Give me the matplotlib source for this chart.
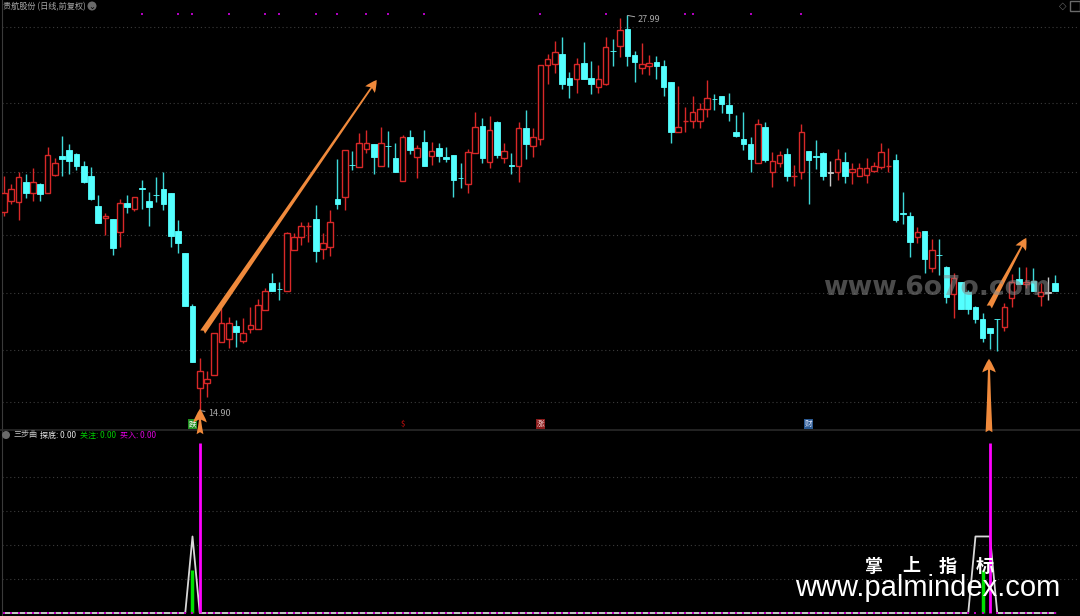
import numpy as np
import matplotlib
matplotlib.use("Agg")
import matplotlib.pyplot as plt
from matplotlib.patches import Ellipse
from matplotlib.transforms import blended_transform_factory

CJK = ['Noto Sans CJK SC', 'DejaVu Sans']
plt.rcParams['font.family'] = CJK

# ---------------- data ----------------
title_main = "贵航股份 (日线,前复权)"
opens = [21.48, 21.84, 21.81, 22.47, 22.11, 22.40, 22.11, 22.70, 23.33, 23.53,
         23.40, 23.00, 22.67, 21.68, 21.28, 21.25, 20.81, 21.78, 21.58, 22.27,
         21.84, 22.05, 22.24, 22.11, 20.85, 20.12, 18.36, 15.65, 15.81, 16.08,
         17.17, 17.27, 17.70, 17.21, 17.60, 17.60, 18.23, 19.13, 18.93, 18.86,
         20.22, 20.65, 21.00, 21.25, 20.25, 20.32, 21.91, 21.97, 23.04, 22.97,
         23.56, 23.73, 23.00, 23.67, 23.27, 22.50, 23.96, 23.30, 23.80, 23.33,
         23.60, 23.30, 23.36, 22.61, 22.40, 23.43, 24.32, 23.13, 24.46, 23.27,
         23.01, 23.00, 24.26, 23.66, 23.90, 26.35, 26.38, 26.71, 25.91, 25.88,
         26.41, 25.91, 25.62, 25.71, 26.81, 26.97, 27.53, 26.68, 26.25, 26.31,
         26.44, 26.31, 25.78, 24.13, 24.48, 24.49, 24.49, 24.89, 25.22, 25.32,
         25.02, 24.13, 23.90, 23.73, 23.10, 24.29, 22.80, 23.10, 23.40, 22.66,
         22.80, 23.50, 23.33, 23.43, 22.77, 22.80, 23.13, 22.80, 22.67, 22.70,
         22.84, 22.97, 22.99, 23.20, 21.44, 21.35, 20.65, 20.85, 19.62, 20.06,
         19.65, 18.76, 19.16, 18.83, 18.33, 17.93, 17.64, 17.94, 17.67, 18.63,
         19.26, 19.09, 19.19, 18.70, 18.80, 19.13]
highs = [22.67, 22.40, 22.80, 22.74, 22.93, 22.44, 23.63, 23.27, 23.99, 23.73,
         23.43, 23.17, 22.97, 22.04, 21.44, 21.26, 21.91, 22.04, 21.98, 22.54,
         22.14, 22.64, 22.80, 22.12, 21.21, 20.13, 18.43, 16.64, 16.21, 17.48,
         18.30, 18.00, 17.90, 17.97, 18.33, 18.60, 18.96, 19.46, 19.16, 20.81,
         20.78, 21.15, 21.15, 21.71, 20.78, 21.54, 23.23, 23.54, 23.50, 24.09,
         24.19, 23.74, 24.29, 24.16, 23.76, 24.03, 24.19, 23.70, 24.19, 23.80,
         23.76, 23.63, 23.37, 23.10, 23.56, 24.79, 24.59, 24.66, 24.49, 23.76,
         23.43, 24.46, 24.85, 24.26, 26.36, 26.71, 27.14, 27.27, 26.11, 26.58,
         27.11, 26.48, 26.35, 27.27, 27.21, 27.90, 27.99, 26.81, 27.07, 26.68,
         26.64, 26.51, 25.79, 25.65, 24.95, 25.32, 25.09, 25.85, 25.38, 25.33,
         25.42, 24.69, 24.79, 23.96, 24.56, 24.46, 23.46, 23.50, 23.60, 23.03,
         24.39, 23.51, 23.86, 23.46, 23.17, 23.56, 23.46, 23.10, 23.10, 23.27,
         23.13, 23.76, 23.60, 23.40, 22.14, 21.48, 20.98, 20.86, 20.58, 20.58,
         19.69, 19.46, 19.17, 18.89, 18.36, 18.13, 17.65, 17.94, 18.46, 19.42,
         19.65, 19.65, 19.62, 19.13, 19.32, 19.39]
lows = [21.35, 21.74, 21.21, 21.94, 21.84, 21.84, 22.10, 22.67, 22.67, 22.74,
        22.87, 22.44, 21.87, 21.10, 20.72, 20.05, 20.32, 21.44, 21.51, 21.58,
        21.01, 21.81, 21.54, 20.32, 20.12, 18.35, 16.50, 14.90, 15.35, 16.07,
        17.16, 16.97, 17.01, 17.14, 17.47, 17.59, 18.22, 18.85, 18.56, 18.85,
        20.21, 20.38, 20.48, 19.82, 19.92, 20.02, 21.58, 21.54, 22.87, 22.96,
        23.43, 22.74, 22.99, 22.97, 22.79, 22.49, 23.40, 22.60, 22.99, 23.03,
        23.13, 23.13, 21.97, 22.27, 22.11, 23.42, 23.10, 22.93, 23.27, 23.10,
        22.74, 22.47, 23.23, 23.30, 23.70, 25.71, 26.08, 25.55, 25.25, 25.42,
        25.87, 25.38, 25.42, 25.70, 26.31, 26.61, 26.31, 25.78, 26.05, 26.01,
        25.88, 25.32, 23.76, 24.12, 24.13, 24.26, 24.26, 24.62, 24.85, 24.76,
        24.49, 23.96, 23.53, 22.80, 23.09, 23.13, 22.30, 22.97, 22.50, 22.34,
        22.57, 21.74, 22.90, 22.54, 22.34, 22.54, 22.44, 22.40, 22.66, 22.44,
        22.80, 22.90, 22.80, 21.15, 21.08, 19.99, 20.45, 19.46, 19.49, 19.39,
        18.46, 17.97, 18.25, 18.10, 17.80, 17.17, 16.94, 16.87, 17.54, 18.33,
        19.08, 18.96, 18.85, 18.36, 18.56, 18.85]
closes = [22.11, 22.24, 22.64, 22.11, 22.47, 22.07, 23.36, 23.10, 23.23, 23.17,
          23.00, 22.47, 21.91, 21.11, 21.35, 20.29, 21.78, 21.64, 21.97, 22.24,
          21.64, 22.03, 21.74, 20.68, 20.45, 18.36, 16.51, 16.21, 15.95, 17.47,
          17.80, 17.80, 17.50, 17.47, 17.73, 18.40, 18.86, 18.86, 18.92, 20.78,
          20.65, 21.01, 21.02, 20.19, 20.45, 21.15, 21.74, 23.53, 23.03, 23.76,
          23.76, 23.30, 23.76, 23.66, 22.80, 23.96, 23.53, 23.60, 23.00, 23.50,
          23.33, 23.23, 22.54, 22.60, 23.46, 24.29, 23.27, 24.19, 23.36, 23.50,
          23.00, 24.26, 23.73, 23.96, 26.35, 26.54, 26.77, 25.71, 25.68, 26.38,
          25.88, 25.71, 25.88, 26.94, 26.80, 27.50, 26.64, 26.44, 26.38, 26.41,
          26.31, 25.62, 24.13, 24.29, 24.50, 24.79, 24.89, 25.25, 25.21, 25.05,
          24.76, 24.00, 23.73, 23.23, 24.39, 23.20, 23.17, 23.36, 22.67, 22.68,
          24.13, 23.20, 23.30, 22.67, 22.77, 23.23, 22.67, 22.90, 22.93, 22.93,
          23.00, 23.46, 23.01, 21.21, 21.41, 20.48, 20.81, 19.92, 20.22, 20.05,
          18.66, 19.29, 18.26, 18.26, 17.93, 17.30, 17.47, 17.93, 18.33, 19.16,
          19.09, 19.16, 18.86, 18.83, 18.80, 18.86]

high_label = "27.99"
low_label = "14.90"
top_dot_idx = [19, 24, 26, 31, 36, 38, 43, 46, 50, 53, 58, 74, 83, 94, 95, 103, 110]
signal_idx = [26, 55, 74, 111]
signal_txt = ["跌", "$", "涨", "财"]

ind_name = "三步曲"
tandi_idx = [26, 134, 135, 136]      # 探底 (white)
tandi_val = [45, 45, 45, 45]
guanzhu_idx = [26, 135]              # 关注 (green)
guanzhu_val = [25, 25]
mairu_idx = [27, 136]                # 买入 (magenta)
mairu_val = [100, 100]

# ---------------- figure ----------------
W, H = 1080, 616
fig = plt.figure(figsize=(W / 100, H / 100), dpi=100, facecolor='black')

def fx(px):
    return px / W

def fy(py):
    return 1 - py / H

ax1 = fig.add_axes([fx(2), fy(429), fx(1076), 429 / H])
ax2 = fig.add_axes([fx(2), 0, fx(1076), (H - 430) / H])
for ax in (ax1, ax2):
    ax.set_facecolor('black')
    ax.set_xticks([])
    ax.set_yticks([])
    for s in ax.spines.values():
        s.set_visible(False)
    ax.spines['left'].set_visible(True)
    ax.spines['left'].set_color('#3a3a3a')
    ax.set_xlim(-0.276, 148.14)

n = len(opens)
x = np.arange(n)
o = np.array(opens); h = np.array(highs); l = np.array(lows); c = np.array(closes)

ax1.set_ylim(14.29, 28.50)
for g in [27.60, 25.09, 22.80, 20.72, 18.79, 16.91, 15.19]:
    ax1.axhline(g, color='#3c3c3c', lw=0.8, ls=(0, (1, 2.5)), zorder=0)

RED = '#d82828'
CYAN = '#54ffff'
GRAY = '#c8c8c8'
up = c > o
dn = c < o
eq = c == o
ax1.vlines(x[up], l[up], h[up], color=RED, lw=1.0, zorder=2)
ax1.vlines(x[dn], l[dn], h[dn], color='#3ed8d8', lw=1.0, zorder=2)
ax1.vlines(x[eq], l[eq], h[eq], color=GRAY, lw=1.0, zorder=2)
bw = 0.76
ax1.bar(x[up], np.maximum(c[up] - o[up], 0.02), bottom=o[up], width=bw,
        facecolor='black', edgecolor=RED, lw=1.0, zorder=3)
ax1.bar(x[dn], np.maximum(o[dn] - c[dn], 0.02), bottom=c[dn], width=bw,
        facecolor=CYAN, edgecolor=CYAN, lw=0.6, zorder=3)
ax1.bar(x[eq], 0.02, bottom=c[eq], width=bw,
        facecolor=GRAY, edgecolor=GRAY, lw=0.6, zorder=3)

# top magenta dots
tr = blended_transform_factory(ax1.transData, ax1.transAxes)
ax1.scatter(top_dot_idx, [1 - 14 / 429] * len(top_dot_idx), marker='s', s=2.5,
            color='#b000c0', transform=tr, zorder=4, linewidths=0)

# high / low labels
hi_i = int(np.argmax(h)); lo_i = int(np.argmin(l))
ax1.annotate(high_label, xy=(hi_i, h[hi_i]), xytext=(10, -4), textcoords='offset pixels',
             ha='left', va='center', fontsize=6.5, color='#a8a8a8',
             arrowprops=dict(arrowstyle='-', color='#a8a8a8', lw=0.7, shrinkA=0, shrinkB=0))
ax1.annotate(low_label, xy=(lo_i, l[lo_i]), xytext=(8, -3), textcoords='offset pixels',
             ha='left', va='center', fontsize=6.5, color='#a8a8a8',
             arrowprops=dict(arrowstyle='-', color='#a8a8a8', lw=0.7, shrinkA=0, shrinkB=0))

# signal icons
sig_style = [dict(color='white', bbox=dict(boxstyle='square,pad=0.12', fc='#1f8f1f', ec='none')),
             dict(color='#e01010'),
             dict(color='#f0d0d0', bbox=dict(boxstyle='square,pad=0.12', fc='#8a1c1c', ec='none')),
             dict(color='#e0e8ff', bbox=dict(boxstyle='square,pad=0.12', fc='#2a5890', ec='none'))]
for i, t, st in zip(signal_idx, signal_txt, sig_style):
    ax1.text(i, 1 - 424 / 429, t, transform=tr, ha='center', va='center',
             fontsize=5.5, zorder=5, **st)

# orange arrows
ORANGE = '#f08a3c'
astyle = 'fancy,head_length=0.7,head_width=0.7,tail_width=0.35'
ax1.annotate('', xy=(51.4, 25.85), xytext=(27.4, 17.50),
             arrowprops=dict(arrowstyle=astyle, fc=ORANGE, ec='none', mutation_scale=12,
                             shrinkA=0, shrinkB=0), zorder=6)
ax1.annotate('', xy=(141.0, 20.62), xytext=(135.9, 18.33),
             arrowprops=dict(arrowstyle=astyle, fc=ORANGE, ec='none', mutation_scale=12,
                             shrinkA=0, shrinkB=0), zorder=6)
for (xp, y0, y1) in [(200, 437, 406), (989, 435, 356)]:
    fig.add_artist(matplotlib.patches.FancyArrowPatch(
        (fx(xp), fy(y0)), (fx(xp), fy(y1)), transform=fig.transFigure,
        arrowstyle=astyle, mutation_scale=14, fc=ORANGE, ec='none', zorder=10))

# watermark
fig.text(fx(823), fy(288), "www.6o7o.com", ha='left', va='center', fontsize=19.2,
         fontweight='bold', color='#8a8a8a', alpha=0.55, family=['DejaVu Sans'])

# main title
fig.text(fx(3), fy(7), title_main, ha='left', va='center', fontsize=5.9, color='#a8a8a8')
fig.add_artist(Ellipse((fx(92), fy(6)), 9 / W, 9 / H, transform=fig.transFigure,
                       fc='#6a6a6a', ec='none'))
fig.text(fx(92), fy(6.5), "⌄", ha='center', va='center', fontsize=6, color='black',
         family=['DejaVu Sans'])
# top-right icons
fig.text(fx(1063), fy(6), "◇", ha='center', va='center', fontsize=7, color='#6a6a6a',
         family=['DejaVu Sans'])
fig.add_artist(matplotlib.patches.Rectangle((fx(1070), fy(11)), 10 / W, 10 / H,
               transform=fig.transFigure, fc='none', ec='#6a6a6a', lw=1))

# divider
fig.add_artist(matplotlib.lines.Line2D([0, 1], [fy(429.5)] * 2, color='#2a2a2a', lw=1.2,
                                       transform=fig.transFigure))

# ---------------- lower panel ----------------
ax2.set_ylim(-1.76, 107.6)
for g in [20, 40, 60, 80]:
    ax2.axhline(g, color='#3c3c3c', lw=0.8, ls=(0, (1, 2.5)), zorder=0)
tandi = np.zeros(n); tandi[tandi_idx] = tandi_val
guanzhu = np.zeros(n); guanzhu[guanzhu_idx] = guanzhu_val
mairu = np.zeros(n); mairu[mairu_idx] = mairu_val
ax2.plot(x, tandi, color='#d8d8d8', lw=1.3, zorder=2)
gm = guanzhu > 0
ax2.vlines(x[gm], 0, guanzhu[gm], color='#00e000', lw=2.5, zorder=3)
mm = mairu > 0
ax2.vlines(x[mm], 0, mairu[mm], color='#ff00ff', lw=2.0, zorder=4)
ax2.scatter(x[~mm], np.zeros((~mm).sum()), marker='s', s=2.0, color='#c000c0',
            linewidths=0, zorder=5)

# lower title
fig.add_artist(Ellipse((fx(6), fy(435)), 8 / W, 8 / H, transform=fig.transFigure,
                       fc='#6a6a6a', ec='none'))
fs_l = 5.8
fig.text(fx(13), fy(435), ind_name, ha='left', va='center', fontsize=fs_l, color='#c8c8c8')
fig.text(fx(40), fy(435), "探底: 0.00", ha='left', va='center', fontsize=fs_l, color='#e8e8e8')
fig.text(fx(80), fy(435), "关注: 0.00", ha='left', va='center', fontsize=fs_l, color='#00d000')
fig.text(fx(120), fy(435), "买入: 0.00", ha='left', va='center', fontsize=fs_l, color='#e000e0')

# palmindex watermark
for xp, ch in zip([874, 911, 948, 985], "掌上指标"):
    fig.text(fx(xp), fy(566), ch, ha='center', va='center', fontsize=13,
             fontweight='bold', color='white')
fig.text(fx(795), fy(588), "www.palmindex.com", ha='left', va='center', fontsize=21,
         color='white', family=['Liberation Sans'])

fig.savefig('out.png', dpi=100, facecolor='black')
